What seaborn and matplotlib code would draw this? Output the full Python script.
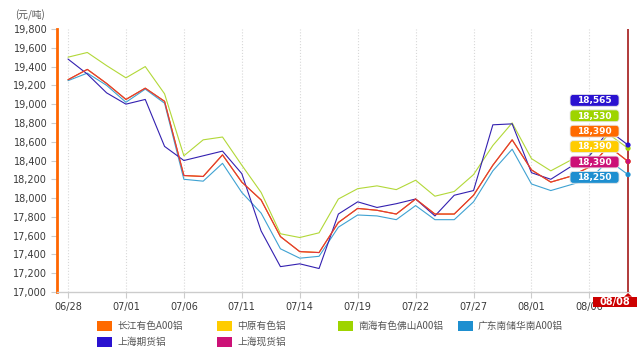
import numpy as np
import pandas as pd
import matplotlib
matplotlib.use("Agg")
import matplotlib.pyplot as plt
import matplotlib.transforms as mtransforms
from matplotlib.patches import FancyBboxPatch, Rectangle, Polygon
import seaborn as sns

# ---------------- data ----------------
dates = ['06/28', '06/29', '06/30', '07/01', '07/04', '07/05', '07/06', '07/07',
         '07/08', '07/11', '07/12', '07/13', '07/14', '07/15', '07/18', '07/19',
         '07/20', '07/21', '07/22', '07/25', '07/26', '07/27', '07/28', '07/29',
         '08/01', '08/02', '08/03', '08/06', '08/07', '08/08']

changjiang = [19260, 19370, 19220, 19050, 19170, 19030, 18240, 18230, 18460, 18170,
              17980, 17590, 17430, 17420, 17740, 17890, 17870, 17830, 17990, 17830,
              17830, 18030, 18350, 18620, 18300, 18170, 18230, 18330, 18550, 18390]
zhongyuan = [19260, 19370, 19220, 19050, 19170, 19030, 18240, 18230, 18460, 18170,
             17980, 17590, 17430, 17420, 17740, 17890, 17870, 17830, 17990, 17830,
             17830, 18030, 18350, 18620, 18300, 18170, 18230, 18330, 18550, 18390]
nanhai = [19500, 19550, 19410, 19280, 19400, 19110, 18450, 18620, 18650, 18350,
          18060, 17620, 17580, 17630, 17990, 18100, 18130, 18090, 18190, 18020,
          18070, 18250, 18560, 18800, 18420, 18290, 18400, 18450, 18680, 18530]
guangdong = [19250, 19330, 19200, 19020, 19160, 19010, 18200, 18180, 18370, 18060,
             17840, 17460, 17360, 17380, 17690, 17820, 17810, 17770, 17920, 17770,
             17770, 17960, 18290, 18520, 18150, 18080, 18140, 18200, 18400, 18250]
shanghai_fut = [19480, 19320, 19120, 19000, 19050, 18550, 18400, 18450, 18500, 18260,
                17650, 17270, 17300, 17250, 17830, 17960, 17900, 17940, 17990, 17810,
                18030, 18080, 18780, 18790, 18270, 18200, 18330, 18450, 18720, 18565]
shanghai_spot = [19260, 19370, 19220, 19050, 19170, 19030, 18240, 18230, 18460, 18170,
                 17980, 17590, 17430, 17420, 17740, 17890, 17870, 17830, 17990, 17830,
                 17830, 18030, 18350, 18620, 18300, 18170, 18230, 18330, 18550, 18390]

series_names = ['长江有色A00铝', '中原有色铝', '南海有色佛山A00铝', '广东南储华南A00铝',
                '上海期货铝', '上海现货铝']
series_values = [changjiang, zhongyuan, nanhai, guangdong, shanghai_fut, shanghai_spot]

xtick_labels = ['06/28', '07/01', '07/06', '07/11', '07/14', '07/19', '07/22',
                '07/27', '08/01', '08/06']
yticks = [17000, 17200, 17400, 17600, 17800, 18000, 18200, 18400, 18600, 18800,
          19000, 19200, 19400, 19600, 19800]
unit_label = '(元/吨)'

# ---------------- styles ----------------
line_colors = {'长江有色A00铝': '#FF6600', '中原有色铝': '#FFCC00',
               '南海有色佛山A00铝': '#B2D838', '广东南储华南A00铝': '#3FA2D2',
               '上海期货铝': '#3320B0', '上海现货铝': '#C8106E'}
box_colors = {'长江有色A00铝': '#FF6A00', '中原有色铝': '#FFCC00',
              '南海有色佛山A00铝': '#9ED400', '广东南储华南A00铝': '#1E8FD0',
              '上海期货铝': '#2A12D0', '上海现货铝': '#CC1177'}
line_alpha = {'上海现货铝': 0.6}
draw_order = ['中原有色铝', '南海有色佛山A00铝', '广东南储华南A00铝', '上海期货铝',
              '长江有色A00铝', '上海现货铝']

sns.set_theme(style="white")
plt.rcParams['font.family'] = ['DejaVu Sans']
cjk = ['Noto Sans CJK SC', 'DejaVu Sans']

df = pd.DataFrame({
    'idx': np.tile(np.arange(len(dates)), len(series_names)),
    'date': dates * len(series_names),
    'value': np.concatenate([np.array(v, dtype=float) for v in series_values]),
    'series': np.repeat(series_names, len(dates)),
})

fig = plt.figure(figsize=(6.4, 3.5), dpi=100)
W, H = 640.0, 350.0
ax = fig.add_axes([57 / W, 1 - 292 / H, 572 / W, 263 / H])

for name in draw_order:
    sub = df[df['series'] == name]
    sns.lineplot(data=sub, x='idx', y='value', color=line_colors[name], lw=0.8,
                 alpha=line_alpha.get(name, 1.0), ax=ax, legend=False, zorder=3)

last_idx = len(dates) - 1
last = df[df['idx'] == last_idx]
for name in ['中原有色铝', '长江有色A00铝', '南海有色佛山A00铝', '广东南储华南A00铝',
             '上海期货铝', '上海现货铝']:
    row = last[last['series'] == name]
    sns.scatterplot(data=row, x='idx', y='value', color=box_colors[name], s=14,
                    edgecolor='none', ax=ax, legend=False, zorder=6, clip_on=False)

ax.set_xlim(-0.57, last_idx + 0.05)
ax.set_ylim(yticks[0], yticks[-1])
ax.set_xlabel('')
ax.set_ylabel('')

tick_pos = [dates.index(d) for d in xtick_labels]
ax.set_xticks(tick_pos)
ax.set_xticklabels(xtick_labels, fontsize=7, color='#3a3a3a')
ax.set_yticks(yticks)
ax.set_yticklabels([f'{v:,}' for v in yticks], fontsize=7, color='#3a3a3a')
ax.tick_params(axis='both', which='major', length=4, width=0.8, color='#cccccc',
               pad=3, bottom=True, left=True)
ax.grid(axis='x', ls=':', color='#d8d8d8', lw=0.8)
ax.grid(axis='y', visible=False)
for s in ['top', 'right']:
    ax.spines[s].set_visible(False)
ax.spines['left'].set_color('#FF6600')
ax.spines['left'].set_linewidth(2.0)
ax.spines['bottom'].set_color('#cccccc')
ax.spines['bottom'].set_linewidth(1.0)

# cursor line
ax.axvline(last_idx, color='#B03A3A', lw=1.4, zorder=4)

# value labels at the right end
def anchor(xd, yd):
    return fig.dpi_scale_trans + mtransforms.ScaledTranslation(xd, yd, ax.transData)

order = sorted(range(len(series_names)), key=lambda i: -series_values[i][-1])
min_last = min(v[-1] for v in series_values)
T = anchor(last_idx, min_last)
bw, bh, step = 0.49, 0.118, 0.154
cx = -0.335
for k, i in enumerate(reversed(order)):
    name = series_names[i]
    cy = -0.028 + k * step
    box = FancyBboxPatch((cx - bw / 2, cy - bh / 2), bw, bh,
                         boxstyle='round,pad=0,rounding_size=0.03',
                         fc=box_colors[name], ec='#e6e6e6', lw=0.6,
                         transform=T, clip_on=False, zorder=7)
    ax.add_patch(box)
    ax.text(cx, cy - 0.004, f'{series_values[i][-1]:,}', transform=T, ha='center',
            va='center', fontsize=6.5, fontweight='bold', color='white',
            zorder=8, clip_on=False)

# 08/08 cursor label
T2 = anchor(last_idx, yticks[0])
ax.add_patch(Rectangle((-0.355, -0.153), 0.44, 0.107, fc='#CC0000', ec='none',
                       transform=T2, clip_on=False, zorder=9))
ax.add_patch(Polygon([(-0.04, -0.047), (0.04, -0.047), (0.0, -0.01)], closed=True,
                     fc='#CC0000', ec='none', transform=T2, clip_on=False, zorder=9))
ax.text(-0.135, -0.1, dates[-1], transform=T2, ha='center', va='center',
        fontsize=7, fontweight='bold', color='white', zorder=10, clip_on=False)

# unit label
fig.text(15 / W, 1 - 15 / H, unit_label, fontsize=7, color='#555555',
         va='center', ha='left', family=cjk)

# legend (4 columns, row-major)
col_x = [97, 217, 338, 458]
row_y = [325.5, 341.5]
for i, name in enumerate(series_names):
    r, c = divmod(i, 4)
    x0, yc = col_x[c], row_y[r]
    fig.add_artist(Rectangle((x0 / W, 1 - (yc + 5) / H), 15 / W, 10 / H,
                             transform=fig.transFigure, fc=box_colors[name],
                             ec='none'))
    fig.text((x0 + 20) / W, 1 - yc / H, name, fontsize=7, color='#555555',
             va='center', ha='left', family=cjk)

fig.savefig('out.png', dpi=100)
